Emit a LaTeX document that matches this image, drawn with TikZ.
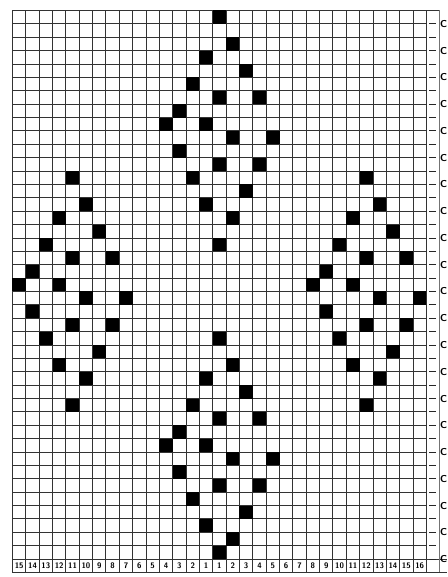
\documentclass[tikz,border=0pt]{standalone}
\usepackage{tikz}
\tikzset{
  gridline/.style = {black!80, line width=0.9pt},
  stripline/.style = {black!55, line width=0.5pt},
  stitch/.style   = {fill=black},
  rowtick/.style  = {black!85, line width=0.9pt},
  collab/.style   = {font=\sffamily\bfseries\fontsize{8}{8}\selectfont, inner sep=0pt},
  rowmark/.style  = {font=\sffamily\bfseries\fontsize{10}{10}\selectfont, inner sep=0pt},
}

\begin{document}
\begin{tikzpicture}[x=13.35pt,y=-13.38pt]
  \useasboundingbox (-0.936,-0.785) rectangle (32.547,42.339);
  % chart grid, 31 stitches by 41 rows, plus the number row
  \foreach \i in {0,...,31}
    \draw[gridline] (\i,0) -- (\i,42);
  \foreach \j in {0,...,40}
    \draw[gridline] (0,\j) -- (31,\j);
  \draw[gridline] (31,0) -- (32,0);
  \draw[gridline] (0,41) -- (32.547,41);
  \draw[gridline] (0,42) -- (32.547,42);
  \draw[stripline] (32,0) -- (32,42);
  % diamonds
  \foreach \r/\c in {0/15,12/4,12/26,24/15}
    \foreach \dr/\dc in {0/0,2/1,3/-1,4/2,5/-2,6/0,6/3,7/-3,8/-4,8/-1,
                         9/1,9/4,10/-3,11/0,11/3,12/-2,13/2,14/-1,15/1}
      \fill[stitch] (\c+\dc,\r+\dr) rectangle ++(1,1);
  \foreach \r/\c in {17/15,29/4,29/26,40/15}
    \fill[stitch] (\c,\r) rectangle ++(1,1);
  % stitch numbers
  \foreach \lab [count=\i from 0] in {15,14,13,12,11,10,9,8,7,6,5,4,3,2,1,
                                      1,2,3,4,5,6,7,8,9,10,11,12,13,14,15,16}
    \node[collab] (lab\i) at (\i+0.5,41.5) {\lab};
  % row marks at the side
  \foreach \k in {1,...,41}
    \draw[rowtick] (31.2,\k) -- (31.75,\k);
  \foreach \k in {1,3,...,41}
    \node[rowmark] (mark\k) at (32.3,\k) {C};
\end{tikzpicture}
\end{document}
